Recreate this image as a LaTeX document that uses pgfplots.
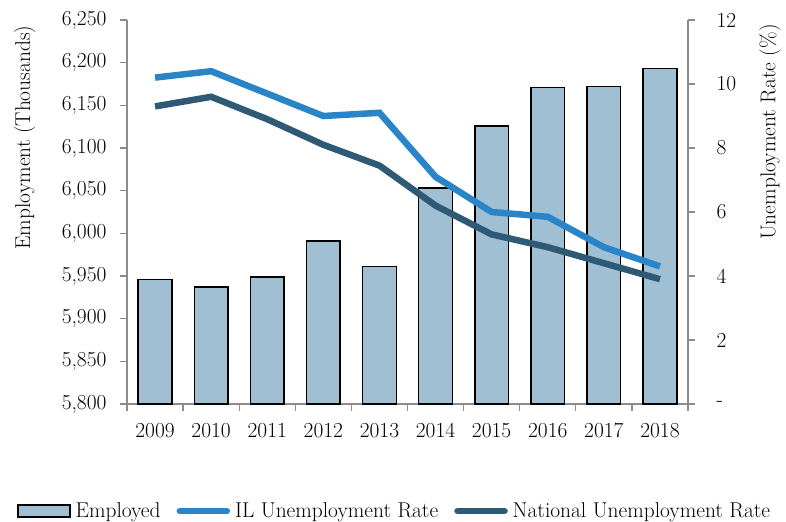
\documentclass[border=0pt]{standalone}
\usepackage{pgfplots}
\usepackage{pgfplotstable}
\pgfplotsset{compat=1.18}
\definecolor{barfill}{HTML}{A0BFD3}
\definecolor{ilblue}{HTML}{2A85C8}
\definecolor{natblue}{HTML}{2E5A75}
\definecolor{axgray}{HTML}{8C8C8C}

\pgfplotstableread{
x emp il nat
0 5946 10.2 9.3
1 5937 10.4 9.6
2 5949 9.7 8.9
3 5991 9.0 8.1
4 5961 9.1 7.45
5 6053 7.1 6.2
6 6126 6.0 5.3
7 6171 5.85 4.9
8 6172 4.9 4.4
9 6193 4.3 3.9
}\datatable

\pgfplotsset{
  every axis/.append style={font=\fontsize{21.5}{25}\selectfont},
  commonax/.style={
    scale only axis, width=561bp, height=384bp,
    at={(0,0)}, anchor=south west,
    xmin=-0.5, xmax=9.5,
    axis line style={draw=axgray, line width=1.3bp},
    tick align=outside,
    major tick length=7bp, minor tick length=7bp,
    every tick/.style={draw=axgray, line width=1.3bp},
  },
  barlegend/.style={legend image code/.code={\draw[##1] (0bp,-6bp) rectangle (52bp,6bp);}},
  linelegend/.style={legend image code/.code={\draw[##1] (3bp,0bp) -- (50bp,0bp);}},
}

\begin{document}
\begin{tikzpicture}
\begin{axis}[
  commonax,
  ymin=5800, ymax=6250,
  axis x line*=bottom, axis y line*=left,
  xtick={0,...,9},
  xticklabels={2009,2010,2011,2012,2013,2014,2015,2016,2017,2018},
  major x tick style={draw=none},
  minor xtick={-0.5,0.5,...,9.5},
  minor x tick style={draw=axgray, line width=1.3bp},
  ytick={5800,5850,...,6250},
  yticklabels={{5,800},{5,850},{5,900},{5,950},{6,000},{6,050},{6,100},{6,150},{6,200},{6,250}},
  yticklabel style={xshift=-10bp},
  xticklabel style={yshift=-8bp, text height=15bp, text depth=2bp, anchor=north},
  ylabel={Employment (Thousands)},
  ylabel style={at={(axis description cs:-0.182,0.694)}, anchor=center},
  legend columns=3,
  legend style={draw=none, fill=none, at={(0.477,-0.279)}, anchor=center,
    font=\fontsize{21.5}{25}\selectfont,
    /tikz/every even column/.append style={column sep=14bp},
    /tikz/every odd column/.append style={column sep=3bp},
    inner sep=0pt},
  ybar, bar width=0.6,
]
\addplot[draw=black, fill=barfill, line width=1.5bp, barlegend]
  table[x=x,y=emp]{\datatable};
\addlegendentry{Employed}
\addlegendimage{ilblue, line width=6.5bp, line cap=round, linelegend}
\addlegendentry{IL Unemployment Rate}
\addlegendimage{natblue, line width=6.5bp, line cap=round, linelegend}
\addlegendentry{National Unemployment Rate}
\end{axis}
\begin{axis}[
  commonax,
  ymin=0, ymax=12,
  axis x line=none, axis y line*=right,
  ytick={0,2,...,12},
  yticklabels={-,2,4,6,8,10,12},
  yticklabel style={xshift=18bp},
  ylabel={Unemployment Rate (\%)},
  ylabel style={at={(axis description cs:1.146,0.708)}, anchor=center},
]
\addplot[ilblue, line width=6.5bp, no marks] table[x=x,y=il]{\datatable};
\addplot[natblue, line width=6.5bp, no marks] table[x=x,y=nat]{\datatable};
\end{axis}
\pgfresetboundingbox
\path[use as bounding box] (-127bp,-118bp) rectangle (659bp,404bp);
\end{tikzpicture}
\end{document}
